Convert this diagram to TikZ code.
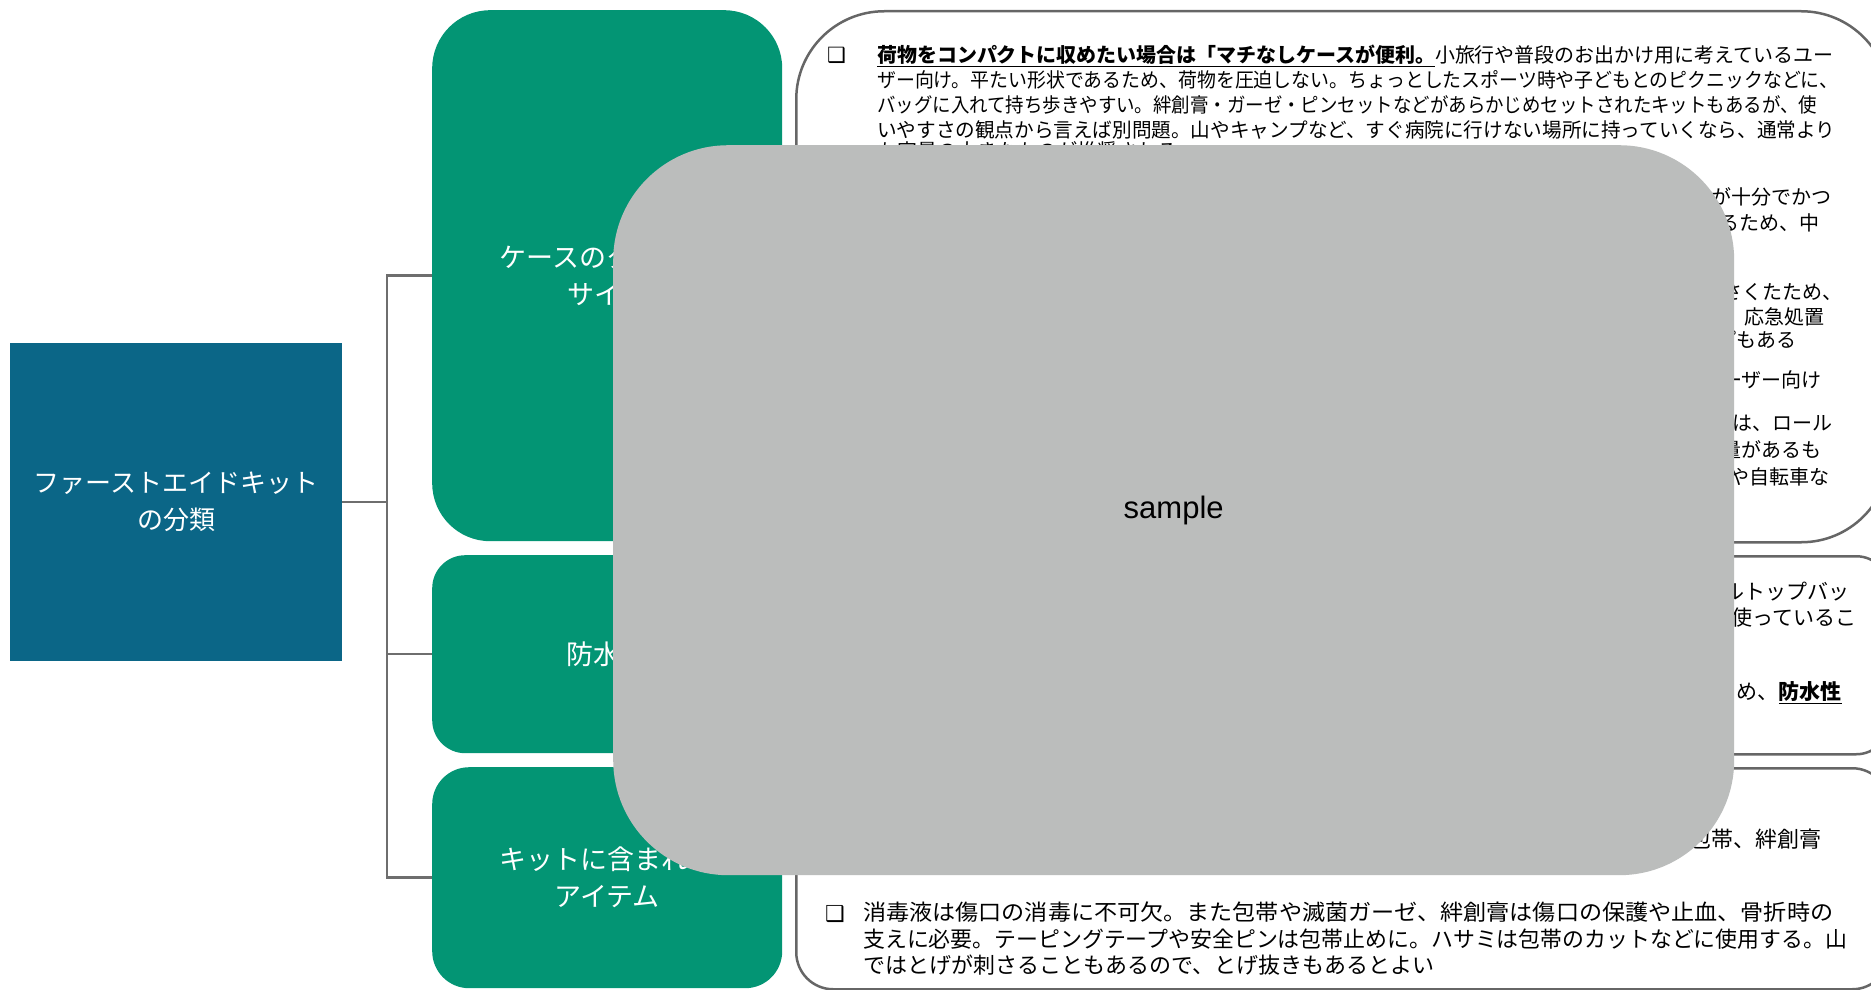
\documentclass[tikz,border=0pt]{standalone}
\usepackage{fontspec}
\usepackage{graphicx}
\setmainfont{Liberation Sans}
\newfontfamily\jp{Noto Sans CJK JP}
\newfontfamily\sym{DejaVu Sans}
\definecolor{rootc}{HTML}{0B6687}
\definecolor{greenc}{HTML}{039574}
\definecolor{linec}{HTML}{6E6E6E}
\definecolor{bordc}{HTML}{666666}
\definecolor{overc}{HTML}{BBBDBC}
\newcommand\myul[1]{\underline{#1}}
\newcommand\fitw[2]{\resizebox{#1}{\height}{#2}}
\begin{document}
\begin{tikzpicture}[x=1pt,y=-1pt,
  conn/.style={draw=linec, line width=2.5pt},
  rootbox/.style={fill=rootc, draw=none, text=white, font=\jp\fontsize{26}{37}\selectfont, align=center, inner sep=0, anchor=north west},
  gbox/.style={fill=greenc, draw=none, text=white, font=\jp\fontsize{27}{37}\selectfont, align=center, inner sep=0, anchor=north west, minimum width=350pt},
  tbox/.style={draw=bordc, line width=2.5pt, fill=white, anchor=north west, minimum width=1093pt, inner sep=0},
  ta/.style={inner sep=0, anchor=base west, font=\jp\fontsize{20}{25}\selectfont},
  tb/.style={inner sep=0, anchor=base east, font=\jp\fontsize{20}{25}\selectfont},
  tc/.style={inner sep=0, anchor=base east, font=\jp\fontsize{21}{25}\selectfont},
  td/.style={inner sep=0, anchor=base west, font=\jp\fontsize{22}{26}\selectfont},
  te/.style={inner sep=0, anchor=base east, font=\jp\fontsize{22}{26}\selectfont},
  bul/.style={inner sep=0, anchor=base west, font=\sym\bfseries\fontsize{21}{21}\selectfont},
  overlay/.style={fill=overc, draw=none, anchor=north west, inner sep=0, font=\fontsize{31}{31}\selectfont, text=black}
]
\useasboundingbox (0,0) rectangle (1871,990);
\clip (0,0) rectangle (1871,990);

% root and categories
\node[rootbox, minimum width=332pt, minimum height=318pt] (root) at (10,343) {ファーストエイドキット\\の分類};
\node[gbox, minimum height=531pt, rounded corners=58pt] (g1) at (432,10) {ケースのタイプと\\サイズ};
\node[gbox, minimum height=198pt, rounded corners=33pt] (g2) at (432,555) {防水性};
\node[gbox, minimum height=221pt, rounded corners=37pt] (g3) at (432,767) {キットに含まれる\\アイテム};

% connectors
\coordinate (trunk) at (387,0);
\draw[conn] (root.east) -- (root.east -| trunk);
\draw[conn] (g1.west) -| (trunk |- g3.west) -- (g3.west);
\draw[conn] (trunk |- g2.west) -- (g2.west);

% text boxes
\node[tbox, minimum height=531pt, rounded corners=88pt] (t1) at (795,10) {};
\node[tbox, minimum height=198pt, rounded corners=33pt] (t2) at (795,555) {};
\node[tbox, minimum height=221pt, rounded corners=37pt] (t3) at (795,767) {};

% box 1 text
\node[bul] (b11) at (827,63) {❑};
\node[ta] (l11) at (877,62.5) {\fitw{956pt}{\myul{\bfseries 荷物をコンパクトに収めたい場合は「マチなしケースが便利。}小旅行や普段のお出かけ用に考えているユー}};
\node[ta] (l12) at (877,87.5) {\fitw{961pt}{ザー向け。平たい形状であるため、荷物を圧迫しない。ちょっとしたスポーツ時や子どもとのピクニックなどに、}};
\node[ta] (l13) at (877,112.5) {\fitw{940pt}{バッグに入れて持ち歩きやすい。絆創膏・ガーゼ・ピンセットなどがあらかじめセットされたキットもあるが、使}};
\node[ta] (l14) at (877,137.5) {\fitw{958pt}{いやすさの観点から言えば別問題。山やキャンプなど、すぐ病院に行けない場所に持っていくなら、通常より}};
\node[ta] (l15) at (877,158) {も容量の大きなものが推奨される};
\node[tb] (f1) at (1832,204.5) {量が十分でかつ};
\node[tb] (f2) at (1820,230.5) {あるため、中};
\node[tb] (f3) at (1843,299.5) {小さくたため、};
\node[tb] (f4) at (1825,324.5) {め、応急処置};
\node[tb] (f5) at (1797,347.5) {ップもある};
\node[tb] (f6) at (1822,387.5) {ユーザー向け};
\node[tb] (f7) at (1833,430.5) {では、ロール};
\node[tb] (f8) at (1822,457.5) {容量があるも};
\node[tb] (f9) at (1830,484.5) {や自転車な};

% box 2 text
\node[tc] (f10) at (1850,599.5) {ルトップバッ};
\node[tc] (f11) at (1857,625.5) {使っているこ};
\node[tc] (f12) at (1842,699.5) {め、\myul{\bfseries 防水性}};

% box 3 text
\node[te] (f13) at (1822,847.5) {包帯、絆創膏};
\node[td] (l31) at (863,873.5) {補充するものは包帯やガーゼなどの消耗品で、ケガの状態に応じて選ぶとよい};
\node[bul, font=\sym\bfseries\fontsize{22}{22}\selectfont] (b32) at (825,921) {❑};
\node[td] (l32) at (863,920.5) {\fitw{970pt}{消毒液は傷口の消毒に不可欠。また包帯や滅菌ガーゼ、絆創膏は傷口の保護や止血、骨折時の}};
\node[td] (l33) at (863,947) {\fitw{984pt}{支えに必要。テーピングテープや安全ピンは包帯止めに。ハサミは包帯のカットなどに使用する。山}};
\node[td] (l34) at (863,973.5) {ではとげが刺さることもあるので、とげ抜きもあるとよい};

% overlay
\node[overlay, minimum width=1121pt, minimum height=730pt, rounded corners=115pt] (ov) at (613,145) {sample};
\end{tikzpicture}
\end{document}
